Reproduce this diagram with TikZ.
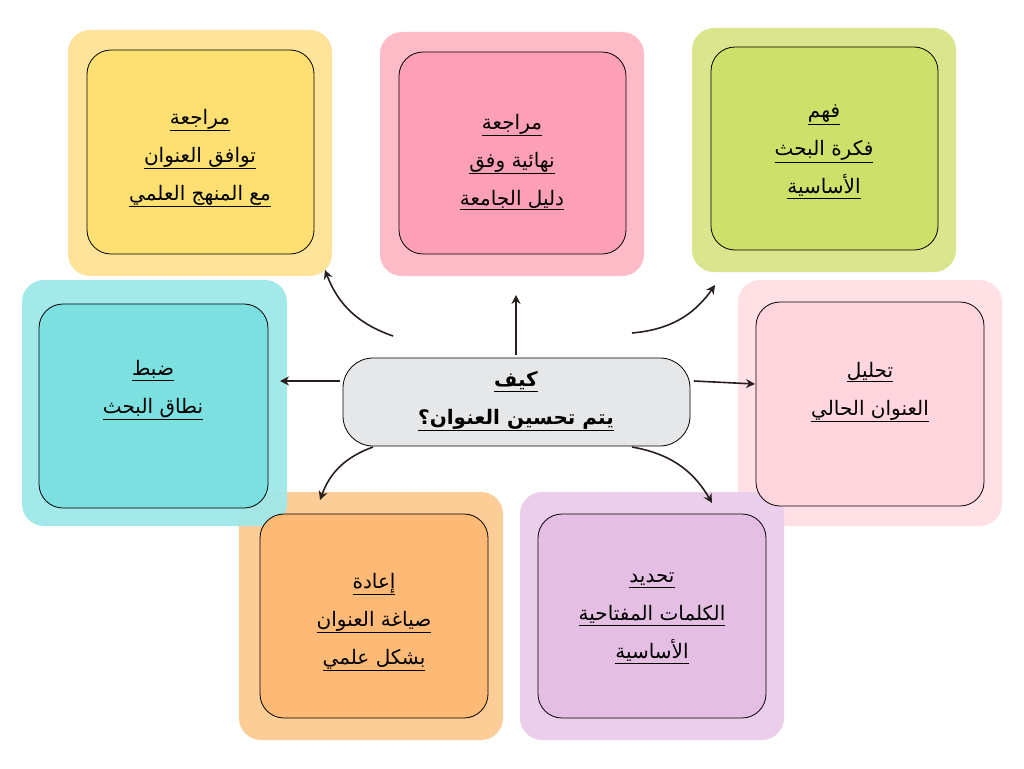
\documentclass[tikz,border=0pt]{standalone}
\usepackage{fontspec}
\newfontfamily\ar[Script=Arabic]{DejaVu Sans}
\usetikzlibrary{arrows.meta}
\TeXXeTstate=1
\newcommand{\AL}[1]{\underline{\beginR #1\endR}}
\begin{document}
\begin{tikzpicture}[x=1pt,y=-1pt,
 outer/.style={rounded corners=22pt},
 inner/.style={draw=black,line width=0.8pt,rounded corners=24pt},
 lab/.style={font=\ar\fontsize{20}{38}\selectfont,align=center,text=black},
 arr/.style={line width=1.6pt,draw={rgb,255:red,40;green,30;blue,30},-{Stealth[length=9pt,width=9pt]}}]
\useasboundingbox (0,0) rectangle (1024,768);
\fill[white] (0,0) rectangle (1024,768);
\definecolor{yo}{HTML}{FDE49A}\definecolor{yi}{HTML}{FDDF72}
\definecolor{po}{HTML}{FDBBC8}\definecolor{pi}{HTML}{FD9FB6}
\definecolor{go}{HTML}{DAE58E}\definecolor{gi}{HTML}{CDE06A}
\definecolor{to}{HTML}{A0E8E8}\definecolor{ti}{HTML}{7DE0E0}
\definecolor{ro}{HTML}{FFE0E5}\definecolor{ri}{HTML}{FFD5DE}
\definecolor{oo}{HTML}{FDCD98}\definecolor{oi}{HTML}{FDBA77}
\definecolor{vo}{HTML}{EACEEB}\definecolor{vi}{HTML}{E5BFE3}
% outer
\fill[outer,yo] (68,30) rectangle (332,276);
\fill[outer,po] (380,32) rectangle (644,276);
\fill[outer,go] (692,28) rectangle (956,272);
\fill[outer,ro] (738,280) rectangle (1002,526);
\fill[outer,vo] (520,492) rectangle (784,740);
\fill[outer,oo] (239,492) rectangle (503,740);
\fill[outer,to,opacity=0.95] (22,280) rectangle (287,526);
% inner
\draw[inner,fill=yi] (87,50) rectangle (314,254);
\draw[inner,fill=pi] (399,52) rectangle (626,254);
\draw[inner,fill=gi] (711,47) rectangle (938,250);
\draw[inner,fill=ti] (39,304) rectangle (268,508);
\draw[inner,fill=ri] (756,302) rectangle (984,506);
\draw[inner,fill=oi] (260,514) rectangle (488,718);
\draw[inner,fill=vi] (538,514) rectangle (766,718);
% labels
\node[lab] (a) at (200,158) {\AL{مراجعة}\\\AL{توافق العنوان}\\\AL{مع المنهج العلمي}};
\node[lab] (b) at (512,162) {\AL{مراجعة}\\\AL{نهائية وفق}\\\AL{دليل الجامعة}};
\node[lab] (c) at (824,152) {\AL{فهم}\\\AL{فكرة البحث}\\\AL{الأساسية}};
\node[lab] (d) at (153,390) {\AL{ضبط}\\\AL{نطاق البحث}};
\node[lab] (e) at (870,392) {\AL{تحليل}\\\AL{العنوان الحالي}};
\node[lab] (f) at (374,622) {\AL{إعادة}\\\AL{صياغة العنوان}\\\AL{بشكل علمي}};
\node[lab] (g) at (652,618) {\AL{تحديد}\\\AL{الكلمات المفتاحية}\\\AL{الأساسية}};
\draw[fill={rgb,255:red,230;green,231;blue,233},draw=black,line width=0.8pt,rounded corners=30pt] (343,358) rectangle (690,446);
\node[lab,font=\ar\bfseries\fontsize{20}{38}\selectfont] (m) at (516,401) {\AL{كيف}\\\AL{يتم تحسين العنوان؟}};
% arrows
\coordinate (m1) at (393,336); \coordinate (m2) at (516,355); \coordinate (m3) at (632,333);
\coordinate (m4) at (340,381); \coordinate (m5) at (694,381); \coordinate (m6) at (373,447); \coordinate (m7) at (632,447);
\coordinate (t1) at (325,270); \coordinate (t2) at (516,295); \coordinate (t3) at (715,285);
\coordinate (t4) at (280,381); \coordinate (t5) at (755,384); \coordinate (t6) at (320,500); \coordinate (t7) at (712,503);
\draw[arr] (m1) to[bend left=25] (t1);
\draw[arr] (m2) -- (t2);
\draw[arr] (m3) to[bend right=25] (t3);
\draw[arr] (m4) -- (t4);
\draw[arr] (m5) -- (t5);
\draw[arr] (m6) to[bend right=25] (t6);
\draw[arr] (m7) to[bend left=25] (t7);
\end{tikzpicture}
\end{document}
